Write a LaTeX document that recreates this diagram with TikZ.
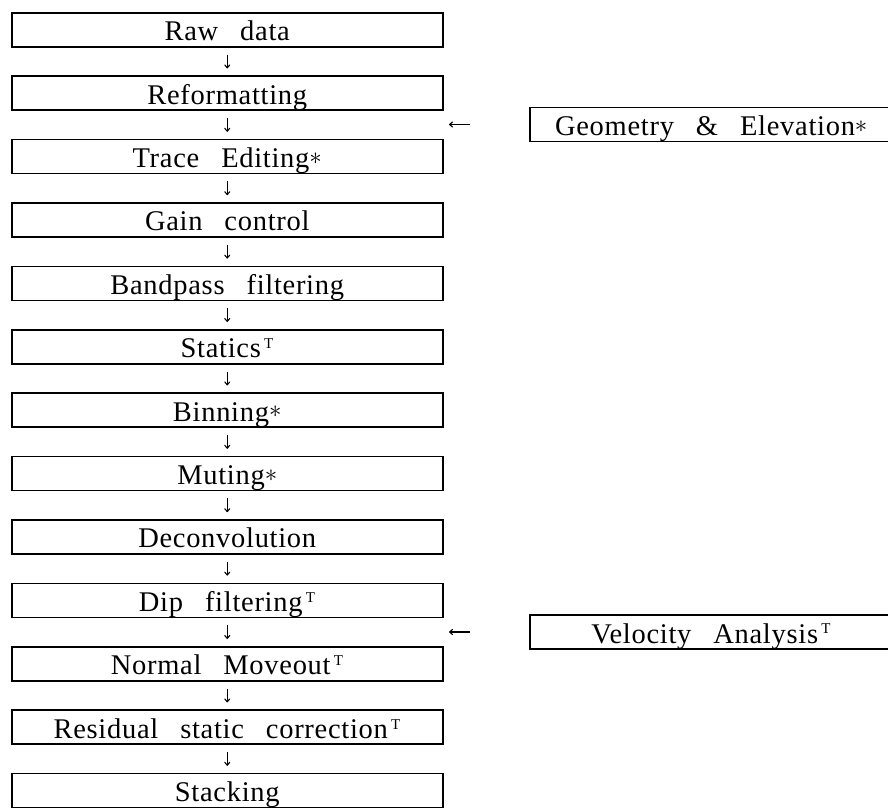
\documentclass[tikz,border=0pt]{standalone}
\usepackage{fontspec}
\setmainfont[WordSpace=2.8,LetterSpace=2.5]{Liberation Serif}
\usetikzlibrary{arrows.meta}
\newcommand{\tsup}{\textsuperscript{\,\fontsize{15}{15}\selectfont T}}
\newcommand{\astk}{\raisebox{0.12em}{$\ast$}}
\begin{document}
\begin{tikzpicture}[x=1pt,y=-1pt,
  stepbox/.style={draw,line width=1.5pt,minimum width=431pt,minimum height=34pt,
    inner sep=0pt,anchor=north west,text height=27pt,text depth=5pt,
    font=\fontsize{28.5}{28.5}\selectfont},
  sidebox/.style={draw,line width=1.5pt,minimum width=363pt,minimum height=34pt,
    inner sep=0pt,anchor=west,text height=27pt,text depth=5pt,
    font=\fontsize{28.5}{28.5}\selectfont},
  arr/.style={line width=1.1pt,-{To[length=4pt,width=6pt]}}]
\useasboundingbox (0,0) rectangle (888,809);
\foreach \n/\t [count=\i from 0] in {b1/Raw data,b2/Reformatting,b3/Trace Editing\astk,
  b4/Gain control,b5/Bandpass filtering,b6/Statics\tsup,b7/Binning\astk,b8/Muting\astk,
  b9/Deconvolution,b10/Dip filtering\tsup,b11/Normal Moveout\tsup,
  b12/Residual static correction\tsup,b13/Stacking}
  \node[stepbox] (\n) at (11,{12+63.4*\i}) {\t};
\foreach \a/\b in {b1/b2,b2/b3,b3/b4,b4/b5,b5/b6,b6/b7,b7/b8,b8/b9,b9/b10,b10/b11,b11/b12,b12/b13}
  \draw[arr] ([yshift=-7pt]\a.south) -- ([yshift=7pt]\b.north);
\node[sidebox] (geo) at (529,124.5) {Geometry \& Elevation\astk};
\node[sidebox] (vel) at (529,632) {Velocity Analysis\tsup};
\draw[arr] ([xshift=-59pt]geo.west) -- ([xshift=-80pt]geo.west);
\draw[arr] ([xshift=-59pt]vel.west) -- ([xshift=-80pt]vel.west);
\end{tikzpicture}
\end{document}
